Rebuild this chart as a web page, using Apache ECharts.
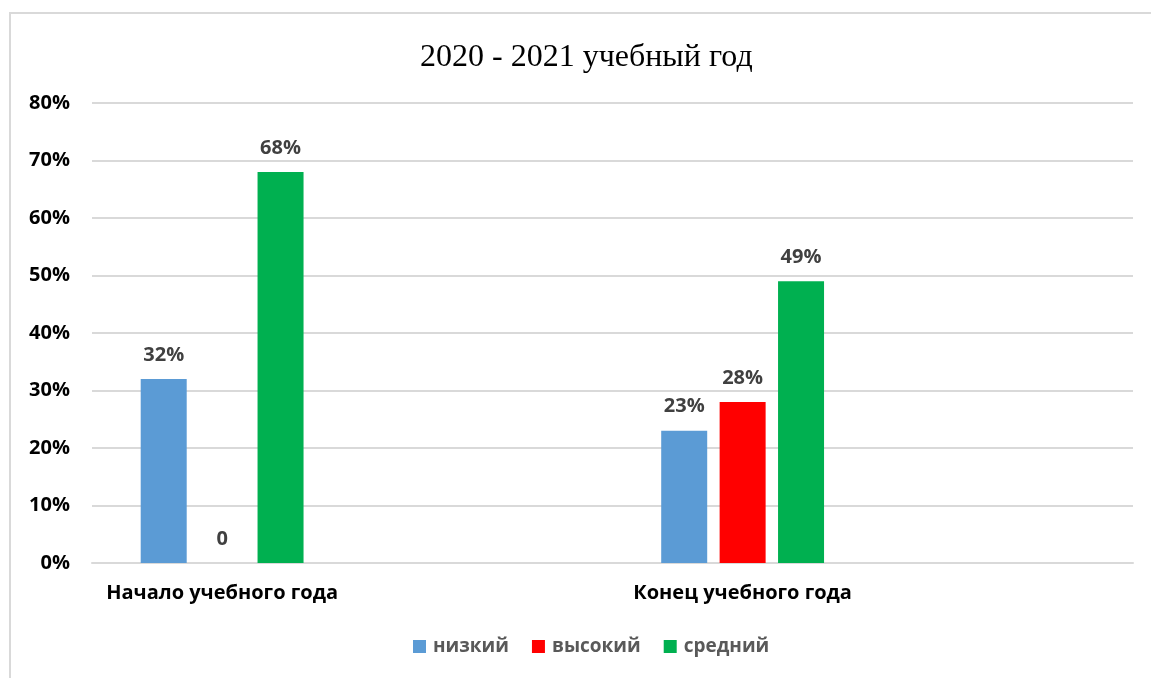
<!DOCTYPE html>
<html>
<head>
<meta charset="UTF-8">
<title>2020 - 2021 учебный год</title>
<script src="https://cdn.jsdelivr.net/npm/echarts@6/dist/echarts.min.js"></script>
<style>
  html, body { margin: 0; padding: 0; background: #fff; }
  #main { width: 1151px; height: 678px; }
</style>
</head>
<body>
<div id="main"></div>
<script>
// категории (2 и 4 пустые, как в исходной диаграмме Excel)
var categories = ['Начало учебного года', '', 'Конец учебного года', ''];
var seriesNames = ['низкий', 'высокий', 'средний'];
var lowValues = [32, null, 23, null];
var highValues = [0, null, 28, null];
var midValues = [68, null, 49, null];
var yTicks = [0, 10, 20, 30, 40, 50, 60, 70, 80];

var colors = ['#5b9bd5', '#ff0000', '#00b050'];
var fontFamily = '"Open Sans", "Noto Sans", sans-serif';

var myChart = echarts.init(document.getElementById('main'));

function barSeries(name, data, color) {
  return {
    name: name,
    type: 'bar',
    data: data,
    barWidth: 46,
    barGap: '27%',
    itemStyle: { color: color },
    label: {
      show: true,
      position: 'top',
      distance: 14,
      color: '#404040',
      fontFamily: fontFamily,
      fontWeight: 'bold',
      fontSize: 20,
      formatter: function (p) {
        if (p.value === null || p.value === undefined) return '';
        return p.value === 0 ? '0' : p.value + '%';
      }
    }
  };
}

var option = {
  animation: false,
  color: colors,
  title: {
    text: '2020 - 2021 учебный год',
    left: 415,
    top: 37,
    textStyle: {
      fontFamily: '"Liberation Serif", "DejaVu Serif", serif',
      fontWeight: 'normal',
      fontSize: 32,
      color: '#000'
    }
  },
  graphic: [{
    type: 'rect',
    shape: { x: 10, y: 13, width: 1200, height: 720 },
    style: { fill: 'none', stroke: '#d9d9d9', lineWidth: 2 },
    silent: true
  }],
  legend: {
    data: seriesNames,
    bottom: 17,
    left: 408,
    itemWidth: 13,
    itemHeight: 13,
    itemGap: 23,
    icon: 'rect',
    textStyle: {
      fontFamily: fontFamily,
      fontWeight: 'bold',
      fontSize: 19,
      color: '#595959',
      padding: [0, 0, 0, 2]
    }
  },
  grid: {
    left: 92,
    right: 18,
    top: 103,
    bottom: 115,
    containLabel: false
  },
  xAxis: {
    type: 'category',
    data: categories,
    axisLine: { lineStyle: { color: '#d9d9d9', width: 2 } },
    axisTick: { show: false },
    axisLabel: {
      interval: 0,
      margin: 20,
      color: '#000',
      fontFamily: fontFamily,
      fontWeight: 'bold',
      fontSize: 20
    }
  },
  yAxis: {
    type: 'value',
    min: yTicks[0],
    max: yTicks[yTicks.length - 1],
    interval: 10,
    axisLine: { show: false },
    axisTick: { show: false },
    splitLine: { lineStyle: { color: '#d9d9d9', width: 2 } },
    axisLabel: {
      margin: 22,
      color: '#000',
      fontFamily: fontFamily,
      fontWeight: 'bold',
      fontSize: 20,
      formatter: '{value}%'
    }
  },
  series: [
    barSeries(seriesNames[0], lowValues, colors[0]),
    barSeries(seriesNames[1], highValues, colors[1]),
    barSeries(seriesNames[2], midValues, colors[2])
  ]
};

myChart.setOption(option);
</script>
</body>
</html>
